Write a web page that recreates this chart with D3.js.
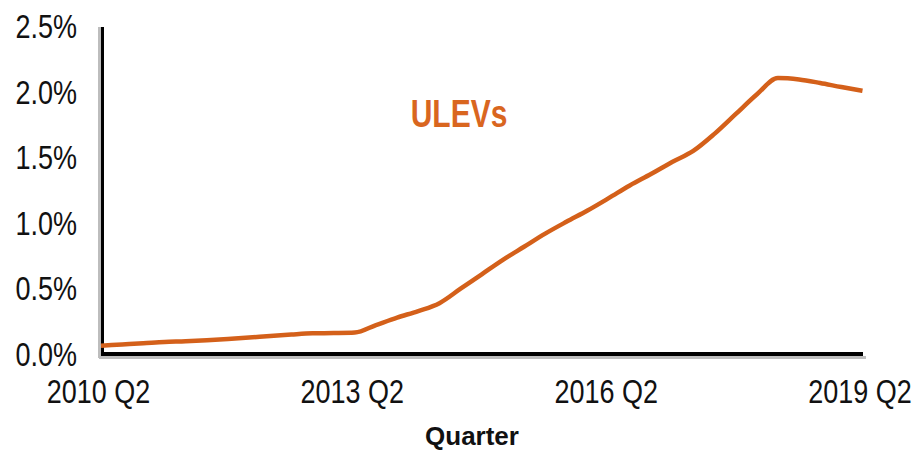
<!DOCTYPE html>
<html lang="en">
<head>
  <meta charset="UTF-8">
  <title>ULEVs share by quarter</title>
  <style>
    html, body {
      margin: 0;
      padding: 0;
      overflow: hidden;
      background: #fff;
      font-family: 'Liberation Sans', Arial, sans-serif;
    }
    svg {
      width: 919px;
      height: 454px;
      display: block;
    }
    .tick text {
      fill: #111;
    }
  </style>
</head>
<body>
<svg></svg>
<script src="https://d3js.org/d3.v7.min.js"></script>
<script>
const width = 919;
const height = 454;

// share of ULEVs (%), one value per quarter, 2010 Q2 .. 2019 Q2
const ulevShare = [
  0.056, 0.065, 0.074, 0.084, 0.089, 0.097, 0.107, 0.118, 0.130, 0.141,
  0.150, 0.152, 0.156, 0.213, 0.270, 0.320, 0.380, 0.490, 0.600, 0.710,
  0.810, 0.910, 1.000, 1.086, 1.180, 1.277, 1.364, 1.456, 1.540, 1.670,
  1.820, 1.970, 2.096, 2.085, 2.058, 2.027, 1.999
];
const xTickIndex = [0, 12, 24, 36];
const xTickLabels = ["2010 Q2", "2013 Q2", "2016 Q2", "2019 Q2"];
const yTicks = [0, 0.5, 1, 1.5, 2, 2.5];
const seriesName = "ULEVs";
const xTitle = "Quarter";

const orange = "#D4601A";

const svg = d3.select("svg")
  .attr("viewBox", `0 0 ${width} ${height}`);

const x = d3.scaleLinear().domain([0, 36]).range([101, 862.5]);
const y = d3.scaleLinear().domain([0, 2.5]).range([353, 25]);

// grey shadow behind the axes
svg.append("line")
  .attr("x1", 99.5).attr("x2", 99.5)
  .attr("y1", 27).attr("y2", 358)
  .attr("stroke", "#bdbdbd").attr("stroke-width", 3);
svg.append("line")
  .attr("x1", 99).attr("x2", 866)
  .attr("y1", 357.5).attr("y2", 357.5)
  .attr("stroke", "#bdbdbd").attr("stroke-width", 3);

// axis lines
svg.append("line")
  .attr("x1", 102.5).attr("x2", 102.5)
  .attr("y1", 27).attr("y2", 356)
  .attr("stroke", "#000").attr("stroke-width", 3);
svg.append("line")
  .attr("x1", 101).attr("x2", 863)
  .attr("y1", 354).attr("y2", 354)
  .attr("stroke", "#000").attr("stroke-width", 4);

// y axis labels
const yAxis = d3.axisLeft(y)
  .tickValues(yTicks)
  .tickSize(0)
  .tickPadding(0)
  .tickFormat(d => d.toFixed(1) + "%");

const gy = svg.append("g")
  .attr("transform", "translate(77,1)")
  .call(yAxis);
gy.select(".domain").remove();
gy.selectAll(".tick text")
  .attr("x", 0).attr("dy", null)
  .attr("font-size", 27)
  .attr("font-family", "'Liberation Sans', Arial, sans-serif")
  .attr("dominant-baseline", "central")
  .attr("transform", "scale(1,1.22)");

// x axis labels
const xAxis = d3.axisBottom(x)
  .tickValues(xTickIndex)
  .tickSize(0)
  .tickPadding(0)
  .tickFormat((d, i) => xTickLabels[i]);

const gx = svg.append("g")
  .attr("transform", "translate(-3,392)")
  .call(xAxis);
gx.select(".domain").remove();
gx.selectAll(".tick text")
  .attr("y", 0).attr("dy", null)
  .attr("font-size", 27)
  .attr("font-family", "'Liberation Sans', Arial, sans-serif")
  .attr("dominant-baseline", "central")
  .attr("transform", "scale(1,1.22)");

// series line
const line = d3.line()
  .x((d, i) => x(i))
  .y(d => y(d))
  .curve(d3.curveMonotoneX);

svg.append("path")
  .datum(ulevShare)
  .attr("fill", "none")
  .attr("stroke", orange)
  .attr("stroke-width", 4.5)
  .attr("stroke-linejoin", "round")
  .attr("d", line);

// series label
svg.append("text")
  .attr("transform", "translate(459,127) scale(1,1.28)")
  .attr("text-anchor", "middle")
  .attr("font-size", 30)
  .attr("font-weight", "bold")
  .attr("fill", "#D9661F")
  .text(seriesName);

// x axis title
svg.append("text")
  .attr("x", 472).attr("y", 445)
  .attr("text-anchor", "middle")
  .attr("font-size", 26)
  .attr("font-weight", "bold")
  .attr("fill", "#111")
  .text(xTitle);
</script>
</body>
</html>
